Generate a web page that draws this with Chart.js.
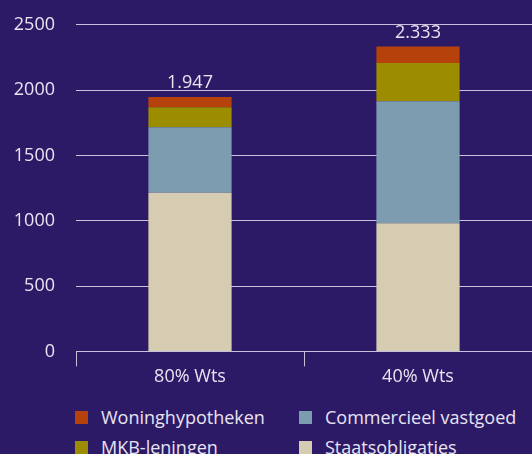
<!DOCTYPE html>
<html>
<head>
<meta charset="utf-8">
<script src="https://cdn.jsdelivr.net/npm/chart.js@4"></script>
<style>
  html, body { margin: 0; padding: 0; background: #2d1a66; }
  #wrap { position: relative; width: 532px; height: 454px; overflow: hidden; font-family: 'Open Sans', sans-serif; }
  #box { position: absolute; left: 0; top: 0; width: 532px; height: 388px; }
  #legend { position: absolute; left: 75px; top: 406px; display: grid; grid-template-columns: 224px 220px; row-gap: 8px; }
  .item { display: flex; align-items: center; color: #e8e4f2; font-size: 18px; line-height: 22px; white-space: nowrap; }
  .sw { width: 13px; height: 13px; margin-right: 13px; flex: none; }
</style>
</head>
<body>
<div id="wrap">
  <div id="box"><canvas id="chart"></canvas></div>
  <div id="legend"></div>
</div>
<script>
const categories = ['80% Wts', '40% Wts'];
const staatsobligaties = [1215, 980];
const commercieelVastgoed = [500, 935];
const mkbLeningen = [153, 292];
const woninghypotheken = [79, 126];
const totals = [1947, 2333];
const yTicks = [0, 500, 1000, 1500, 2000, 2500];

const textColor = '#e8e4f2';
const gridColor = '#c8c1dc';

// totals above each stacked bar, Dutch thousands separator
const totalLabels = {
  id: 'totalLabels',
  afterDatasetsDraw(chart) {
    const ctx = chart.ctx;
    const top = chart.getDatasetMeta(chart.data.datasets.length - 1);
    ctx.save();
    ctx.font = '18px "Open Sans", sans-serif';
    ctx.fillStyle = textColor;
    ctx.textAlign = 'center';
    ctx.textBaseline = 'bottom';
    top.data.forEach((bar, i) => {
      const s = String(totals[i]).replace(/\B(?=(\d{3})+(?!\d))/g, '.');
      ctx.fillText(s, bar.x, bar.y - 5);
    });
    ctx.restore();
  }
};

const datasets = [
  { label: 'Staatsobligaties', data: staatsobligaties, backgroundColor: '#d6ccb1' },
  { label: 'Commercieel vastgoed', data: commercieelVastgoed, backgroundColor: '#7d9caf' },
  { label: 'MKB-leningen', data: mkbLeningen, backgroundColor: '#9b8c00' },
  { label: 'Woninghypotheken', data: woninghypotheken, backgroundColor: '#b6410b' }
];

Chart.defaults.font.family = "'Open Sans', sans-serif";
Chart.defaults.font.size = 18;
Chart.defaults.color = textColor;

new Chart(document.getElementById('chart'), {
  type: 'bar',
  data: {
    labels: categories,
    datasets: datasets.map(d => ({ ...d, barPercentage: 0.73, categoryPercentage: 0.5 }))
  },
  options: {
    responsive: true,
    maintainAspectRatio: false,
    animation: false,
    layout: { padding: { top: 0, left: 0, right: 0, bottom: 0 } },
    plugins: {
      legend: { display: false },
      tooltip: { enabled: false }
    },
    scales: {
      x: {
        stacked: true,
        grid: { offset: true, drawOnChartArea: false, drawTicks: true, tickLength: 15, color: gridColor },
        border: { color: gridColor },
        ticks: { padding: 0, color: textColor }
      },
      y: {
        stacked: true,
        min: 0,
        max: 2500,
        afterBuildTicks: axis => { axis.ticks = yTicks.map(v => ({ value: v })); },
        afterFit: axis => { axis.width = 76; },
        grid: { drawTicks: true, tickLength: 7, tickColor: 'rgba(0,0,0,0)', color: gridColor },
        border: { display: false },
        ticks: { padding: 14, color: textColor, callback: v => String(v) }
      }
    }
  },
  plugins: [totalLabels]
});

// legend, two columns, row order as in the source
const legendOrder = [3, 1, 2, 0];
document.getElementById('legend').innerHTML = legendOrder.map(i =>
  '<div class="item"><span class="sw" style="background:' + datasets[i].backgroundColor + '"></span>' + datasets[i].label + '</div>'
).join('');
</script>
</body>
</html>
